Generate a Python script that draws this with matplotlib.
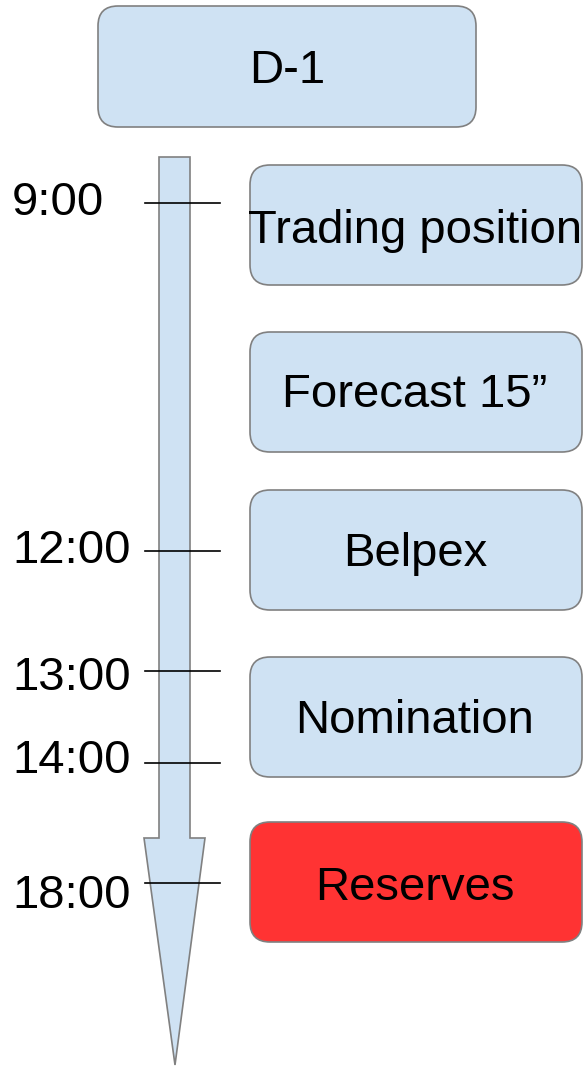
import matplotlib.pyplot as plt
from matplotlib.patches import FancyBboxPatch, Polygon

plt.rcParams['font.family'] = ['Liberation Sans', 'DejaVu Sans']

# timeline ticks (pixel y of each tick)
time_labels = ['9:00', '12:00', '13:00', '14:00', '18:00']
time_y = [203, 551, 671, 763, 883]
label_y = [203, 551, 678, 761, 896]

# step boxes on the right
box_labels = ['Trading position', 'Forecast 15\u201d', 'Belpex', 'Nomination', 'Reserves']
box_top = [165, 332, 490, 657, 822]
box_text_y = [231, 395, 554, 721, 888]
box_colors = ['#cfe2f3', '#cfe2f3', '#cfe2f3', '#cfe2f3', '#ff3333']

W, H = 587, 1066
fig = plt.figure(figsize=(W / 100, H / 100), dpi=100)
ax = fig.add_axes([0, 0, 1, 1])
ax.set_xlim(0, W)
ax.set_ylim(H, 0)
ax.axis('off')

edge = '#808080'
fs = 34

# header box
ax.add_patch(FancyBboxPatch((98, 6), 378, 121, boxstyle='round,pad=0,rounding_size=20',
                            facecolor='#cfe2f3', edgecolor=edge, linewidth=1.2))
ax.text(287, 71, 'D-1', ha='center', va='center', fontsize=fs)

# arrow down
arrow = [(159, 157), (190, 157), (190, 838), (205, 838), (175, 1065),
         (144, 838), (159, 838)]
ax.add_patch(Polygon(arrow, closed=True, facecolor='#cfe2f3', edgecolor=edge, linewidth=1.2))

for lab, y, ty in zip(time_labels, time_y, label_y):
    ax.plot([145, 220], [y, y], color='black', linewidth=1.2)
    ax.text(12, ty, lab, ha='left', va='center', fontsize=fs)

for lab, top, ty, c in zip(box_labels, box_top, box_text_y, box_colors):
    ax.add_patch(FancyBboxPatch((250, top), 332, 120, boxstyle='round,pad=0,rounding_size=20',
                                facecolor=c, edgecolor=edge, linewidth=1.2))
    ax.text(415, ty, lab, ha='center', va='center', fontsize=fs)

fig.savefig('out.png', dpi=100)
